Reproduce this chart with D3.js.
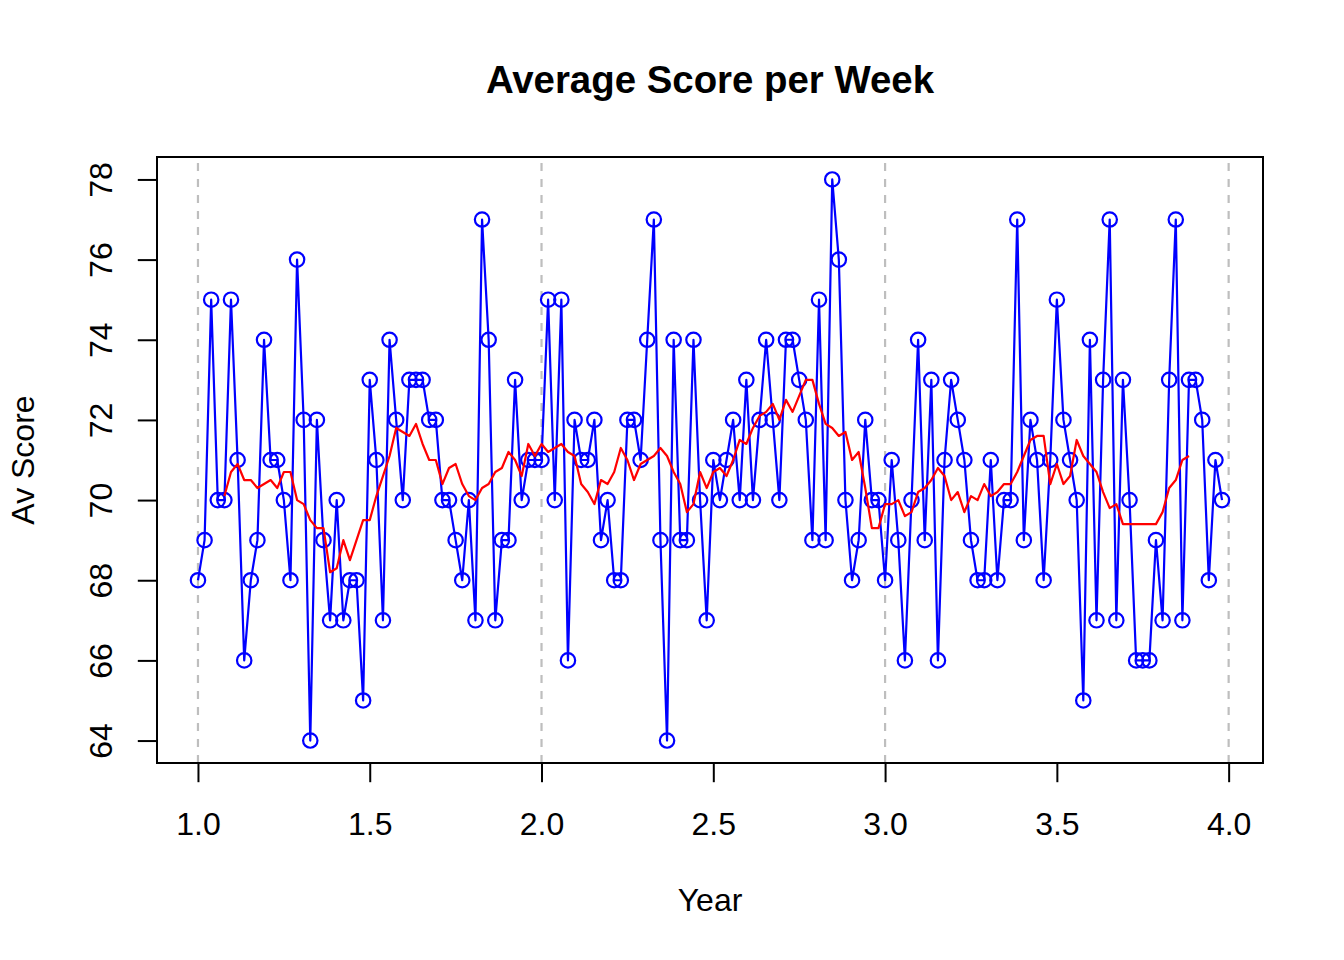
<!DOCTYPE html>
<html>
<head>
<meta charset="utf-8">
<script src="https://cdn.jsdelivr.net/npm/d3@7"></script>
<style>
  html, body { margin: 0; padding: 0; background: #ffffff; }
  svg { display: block; }
  text { font-family: "Liberation Sans", Arial, Helvetica, sans-serif; fill: #000; }
</style>
</head>
<body>
<svg id="chart" width="1344" height="960"></svg>
<script>
// ---- data ----
const startYear = 1;
const weeksPerYear = 52;

// weekly average scores (one per week, starting at year 1.0)
const scores = [
  68, 69, 75, 70, 70, 75, 71, 66, 68, 69, 74, 71, 71, 70, 68, 76, 72, 64, 72, 69, 67, 70, 67, 68, 68, 65,
  73, 71, 67, 74, 72, 70, 73, 73, 73, 72, 72, 70, 70, 69, 68, 70, 67, 77, 74, 67, 69, 69, 73, 70, 71, 71,
  71, 75, 70, 75, 66, 72, 71, 71, 72, 69, 70, 68, 68, 72, 72, 71, 74, 77, 69, 64, 74, 69, 69, 74, 70, 67,
  71, 70, 71, 72, 70, 73, 70, 72, 74, 72, 70, 74, 74, 73, 72, 69, 75, 69, 78, 76, 70, 68, 69, 72, 70, 70,
  68, 71, 69, 66, 70, 74, 69, 73, 66, 71, 73, 72, 71, 69, 68, 68, 71, 68, 70, 70, 77, 69, 72, 71, 68, 71,
  75, 72, 71, 70, 65, 74, 67, 73, 77, 67, 73, 70, 66, 66, 66, 69, 67, 73, 77, 67, 73, 73, 72, 68, 71, 70
];

// smoothed (red) line, first value belongs to week index 4
const smoothStartWeek = 4;
const smoothed = [
  70.1, 70.7, 70.9, 70.5, 70.5, 70.3, 70.4, 70.5, 70.3, 70.7,
  70.7, 70.0, 69.9, 69.5, 69.3, 69.3, 68.2, 68.3, 69.0, 68.5,
  69.0, 69.5, 69.5, 70.1, 70.6, 71.1, 71.8, 71.7, 71.6, 71.9,
  71.4, 71.0, 71.0, 70.4, 70.8, 70.9, 70.4, 70.1, 70.0, 70.3,
  70.4, 70.7, 70.8, 71.2, 71.0, 70.6, 71.4, 71.1, 71.4, 71.2,
  71.3, 71.4, 71.2, 71.1, 70.4, 70.2, 69.9, 70.5, 70.4, 70.7,
  71.3, 71.0, 70.5, 70.9, 71.0, 71.1, 71.3, 71.1, 70.7, 70.4,
  69.7, 69.9, 70.7, 70.3, 70.7, 70.8, 70.6, 71.0, 71.5, 71.4,
  71.8, 72.1, 72.2, 72.4, 72.0, 72.5, 72.2, 72.6, 73.0, 73.0,
  72.4, 71.9, 71.8, 71.6, 71.7, 71.0, 71.2, 70.3, 69.3, 69.3,
  69.9, 69.9, 70.0, 69.6, 69.7, 70.2, 70.3, 70.5, 70.8, 70.6,
  70.0, 70.2, 69.7, 70.1, 70.0, 70.4, 70.1, 70.2, 70.4, 70.4,
  70.7, 71.1, 71.5, 71.6, 71.6, 70.4, 70.9, 70.4, 70.6, 71.5,
  71.1, 70.9, 70.7, 70.2, 69.8, 69.9, 69.4, 69.4, 69.4, 69.4,
  69.4, 69.4, 69.7, 70.3, 70.5, 71.0, 71.1
];

const xTicks = [1.0, 1.5, 2.0, 2.5, 3.0, 3.5, 4.0];
const yTicks = [64, 66, 68, 70, 72, 74, 76, 78];
const yearLines = [1, 2, 3, 4];

const titleText = "Average Score per Week";
const xLabel = "Year";
const yLabel = "Av Score";

// ---- layout ----
const plot = { left: 157, right: 1263, top: 157, bottom: 763 };
const svg = d3.select("#chart");

const pts = scores.map((v, i) => ({ x: startYear + i / weeksPerYear, y: v }));
const smoothPts = smoothed.map((v, i) => ({ x: startYear + (i + smoothStartWeek) / weeksPerYear, y: v }));

const xExt = d3.extent(pts, d => d.x);
const yExt = d3.extent(pts, d => d.y);
const xPad = (xExt[1] - xExt[0]) * 0.04;
const yPad = (yExt[1] - yExt[0]) * 0.04;

const x = d3.scaleLinear().domain([xExt[0] - xPad, xExt[1] + xPad]).range([plot.left, plot.right]);
const y = d3.scaleLinear().domain([yExt[0] - yPad, yExt[1] + yPad]).range([plot.bottom, plot.top]);

// clip
svg.append("defs").append("clipPath").attr("id", "clip")
  .append("rect")
  .attr("x", plot.left).attr("y", plot.top)
  .attr("width", plot.right - plot.left).attr("height", plot.bottom - plot.top);

// vertical dashed year lines
svg.append("g").attr("clip-path", "url(#clip)")
  .selectAll("line").data(yearLines).join("line")
  .attr("x1", d => x(d)).attr("x2", d => x(d))
  .attr("y1", plot.bottom).attr("y2", plot.top)
  .attr("stroke", "#bebebe").attr("stroke-width", 2.2)
  .attr("stroke-dasharray", "8,8");

// blue series
const line = d3.line().x(d => x(d.x)).y(d => y(d.y));
svg.append("path").datum(pts)
  .attr("d", line)
  .attr("fill", "none").attr("stroke", "#0000ff").attr("stroke-width", 2.2)
  .attr("stroke-linejoin", "round");

svg.append("g").selectAll("circle").data(pts).join("circle")
  .attr("cx", d => x(d.x)).attr("cy", d => y(d.y)).attr("r", 7.2)
  .attr("fill", "none").attr("stroke", "#0000ff").attr("stroke-width", 2.2);

// red smoothed line
svg.append("path").datum(smoothPts)
  .attr("d", line)
  .attr("fill", "none").attr("stroke", "#ff0000").attr("stroke-width", 2.2)
  .attr("stroke-linejoin", "round");

// box
svg.append("rect")
  .attr("x", plot.left).attr("y", plot.top)
  .attr("width", plot.right - plot.left).attr("height", plot.bottom - plot.top)
  .attr("fill", "none").attr("stroke", "#000").attr("stroke-width", 2);

// x axis
const xAxis = svg.append("g")
  .attr("transform", `translate(0,${plot.bottom})`)
  .call(d3.axisBottom(x).tickValues(xTicks).tickFormat(d3.format(".1f")).tickSize(19.2).tickSizeOuter(0));
xAxis.select(".domain").remove();
xAxis.selectAll(".tick line").attr("stroke", "#000").attr("stroke-width", 2);
xAxis.selectAll(".tick text")
  .attr("y", 72).attr("dy", null)
  .style("font-size", "32px").attr("fill", "#000");

// y axis
const yAxis = svg.append("g")
  .attr("transform", `translate(${plot.left},0)`)
  .call(d3.axisLeft(y).tickValues(yTicks).tickFormat(d3.format("d")).tickSize(19.2).tickSizeOuter(0));
yAxis.select(".domain").remove();
yAxis.selectAll(".tick line").attr("stroke", "#000").attr("stroke-width", 2);
yAxis.selectAll(".tick text")
  .attr("x", 0).attr("y", 0).attr("dy", null)
  .attr("text-anchor", "middle")
  .attr("transform", "translate(-45,0) rotate(-90)")
  .style("font-size", "32px").attr("fill", "#000");

svg.selectAll("g").attr("font-family", null).attr("font-size", null);

// title & labels
svg.append("text")
  .attr("x", (plot.left + plot.right) / 2).attr("y", 93)
  .attr("text-anchor", "middle")
  .style("font-size", "38.4px").style("font-weight", "bold")
  .text(titleText);

svg.append("text")
  .attr("x", (plot.left + plot.right) / 2).attr("y", 911)
  .attr("text-anchor", "middle")
  .style("font-size", "32px")
  .text(xLabel);

svg.append("text")
  .attr("transform", `translate(34,${(plot.top + plot.bottom) / 2}) rotate(-90)`)
  .attr("text-anchor", "middle")
  .style("font-size", "32px")
  .text(yLabel);
</script>
</body>
</html>
